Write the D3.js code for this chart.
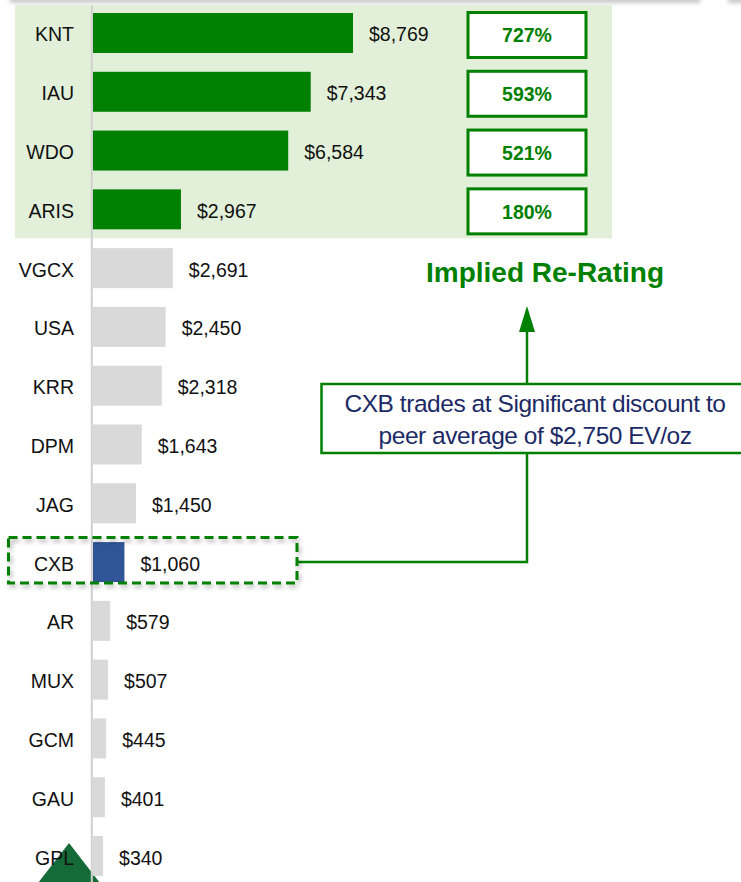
<!DOCTYPE html>
<html><head><meta charset="utf-8">
<script src="https://cdn.jsdelivr.net/npm/d3@7"></script>
<style>html,body{margin:0;padding:0;background:#fff;}svg{display:block;}</style>
</head><body>
<script>
const categories = ["KNT","IAU","WDO","ARIS","VGCX","USA","KRR","DPM","JAG","CXB","AR","MUX","GCM","GAU","GPL"];
const values = [8769,7343,6584,2967,2691,2450,2318,1643,1450,1060,579,507,445,401,340];
const premiumCats = ["KNT","IAU","WDO","ARIS"];
const reRating = ["727%","593%","521%","180%"];
const highlight = "CXB";
const headline = "Implied Re-Rating";
const noteLines = ["CXB trades at Significant discount to","peer average of $2,750 EV/oz"];

const W = 741, H = 882;
const svg = d3.select("body").append("svg").attr("width", W).attr("height", H)
  .style("font-family", "'Liberation Sans', Arial, sans-serif");
const defs = svg.append("defs");
const blur = defs.append("filter").attr("id","blur").attr("x","-10%").attr("y","-200%").attr("width","120%").attr("height","500%");
blur.append("feGaussianBlur").attr("stdDeviation", 2);
const sh = defs.append("filter").attr("id","shadow").attr("x","-10%").attr("y","-30%").attr("width","120%").attr("height","160%");
sh.append("feDropShadow").attr("dx",2).attr("dy",3).attr("stdDeviation",2).attr("flood-color","#000").attr("flood-opacity",0.3);

const y = d3.scaleBand().domain(categories).range([3.6, 885.4]).paddingInner(0.32).paddingOuter(0.16);
const x = d3.scaleLinear().domain([0, 8769]).range([93, 353]);

// top slide shadow
svg.append("rect").attr("x", 10).attr("y", -4).attr("width", 690).attr("height", 7).attr("fill", "#c8c8c8").attr("filter","url(#blur)");
svg.append("rect").attr("x", 728).attr("y", -4).attr("width", 30).attr("height", 7).attr("fill", "#c8c8c8").attr("filter","url(#blur)");

// premium background
const lastPrem = premiumCats[premiumCats.length-1];
svg.append("rect").attr("x", 15).attr("y", 5).attr("width", 597)
  .attr("height", y(lastPrem) + y.bandwidth() + 9 - 5).attr("fill", "#e2f0d9");

// bottom-left triangle decoration
svg.append("path").attr("d", "M69,843 L100,883 L38,883 Z").attr("fill", "#156b38");

// axis line
svg.append("line").attr("x1", 91.8).attr("x2", 91.8).attr("y1", 5).attr("y2", H).attr("stroke", "#d0d0d0").attr("stroke-width", 2);

// bars
const color = c => premiumCats.includes(c) ? "#008000" : (c === highlight ? "#2f5597" : "#d9d9d9");
svg.selectAll("rect.bar").data(categories).join("rect").attr("class","bar")
  .attr("x", x(0)).attr("y", c => y(c)).attr("width", (c,i) => x(values[i]) - x(0))
  .attr("height", y.bandwidth()).attr("fill", color);

// category labels
svg.selectAll("text.cat").data(categories).join("text").attr("class","cat")
  .attr("x", 74).attr("y", c => y(c) + y.bandwidth()/2 + 8.5).attr("text-anchor","end")
  .attr("font-size", 19.5).attr("fill", "#111").text(c => c);

// value labels
svg.selectAll("text.val").data(categories).join("text").attr("class","val")
  .attr("x", (c,i) => x(values[i]) + 16).attr("y", c => y(c) + y.bandwidth()/2 + 8.5)
  .attr("font-size", 19.5).attr("fill", "#111").text((c,i) => "$" + d3.format(",")(values[i]));

// re-rating boxes
const bx = 527;
premiumCats.forEach((c,i) => {
  const cy = y(c) + y.bandwidth()/2 + 2;
  svg.append("rect").attr("x", bx-59).attr("y", cy-22.5).attr("width", 118).attr("height", 45)
    .attr("fill", "#fff").attr("stroke", "#008000").attr("stroke-width", 3);
  svg.append("text").attr("x", bx).attr("y", cy + 7.5).attr("text-anchor","middle")
    .attr("font-size", 19.5).attr("font-weight","bold").attr("fill","#008000").text(reRating[i]);
});

// headline
svg.append("text").attr("x", 545).attr("y", 282).attr("text-anchor","middle")
  .attr("font-size", 28).attr("font-weight","bold").attr("fill","#008000").text(headline);

// arrow up
svg.append("line").attr("x1", bx).attr("x2", bx).attr("y1", 384).attr("y2", 330).attr("stroke","#008000").attr("stroke-width",2.5);
svg.append("path").attr("d", `M${bx},306 L${bx+8},332 L${bx-8},332 Z`).attr("fill","#008000");

// connector from note down to CXB box
const cxbY = y(highlight) + y.bandwidth()/2;
svg.append("path").attr("d", `M${bx},453 L${bx},${cxbY} L298,${cxbY}`).attr("fill","none").attr("stroke","#008000").attr("stroke-width",2.5);

// note box
svg.append("rect").attr("x", 321.5).attr("y", 384).attr("width", 440).attr("height", 69)
  .attr("fill","#fff").attr("stroke","#008000").attr("stroke-width",2.5);
noteLines.forEach((t,i) => {
  svg.append("text").attr("x", 535).attr("y", 412 + i*31.5).attr("text-anchor","middle")
    .attr("font-size", 24.5).attr("letter-spacing", "-0.45").attr("fill","#1c2a66").text(t);
});

// dashed highlight box
svg.append("rect").attr("x", 8.5).attr("y", 537.5).attr("width", 288.5).attr("height", 45.5)
  .attr("fill","none").attr("stroke","#008000").attr("stroke-width",3).attr("stroke-dasharray","9,5")
  .attr("filter","url(#shadow)");
</script>
</body></html>
